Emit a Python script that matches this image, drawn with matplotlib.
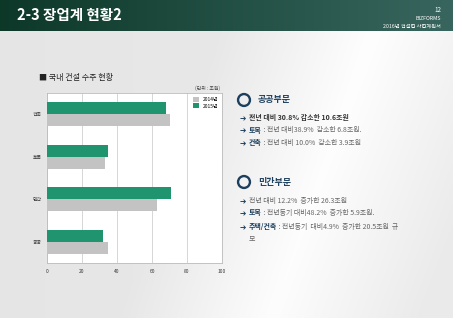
import numpy as np
import matplotlib.pyplot as plt
from matplotlib.patches import Circle

plt.rcParams['font.family'] = ['Noto Sans CJK KR', 'DejaVu Sans']

# --- data ---
categories = ['건축', '토목', '민간', '공공']
val_2015 = [68, 35, 71, 32]
val_2014 = [70, 33, 63, 35]
series_labels = ['2014년', '2015년']
xticks = [0, 20, 40, 60, 80, 100]

green = '#1f946f'
gray = '#c3c3c3'
navy = '#1d3f5e'

fig = plt.figure(figsize=(4.53, 3.18), dpi=100)

# slide background
bg = fig.add_axes([0, 0, 1, 1])
bg.set_axis_off()
yy, xx = np.mgrid[0:1:200j, 0:1:300j]
shade = 0.90 + 0.08 * np.clip(1 - np.abs(xx - 0.6 - 0.25 * (1 - yy)) * 3, 0, 1) + 0.02 * xx
bg.imshow(np.dstack([shade, shade, shade]), extent=[0, 1, 0, 1], aspect='auto', vmin=0, vmax=1)
grad = np.linspace(0, 1, 300)[None, :]
head = np.dstack([0.05 + 0.17 * grad, 0.22 + 0.18 * grad, 0.16 + 0.21 * grad])
bg.imshow(head, extent=[0, 1, 1 - 31 / 318, 1], aspect='auto')
bg.set_xlim(0, 1)
bg.set_ylim(0, 1)

fig.text(17 / 453, 1 - 15 / 318, '2-3 장업계 현황2', color='white', fontsize=10.5,
         fontweight='bold', va='center')
fig.text(441 / 453, 1 - 10 / 318, '12', color='white', fontsize=4.5, ha='right', va='center')
fig.text(441 / 453, 1 - 19 / 318, 'BIZFORMS', color='white', fontsize=3.8, ha='right', va='center')
fig.text(441 / 453, 1 - 26 / 318, '2016년 건설업 사업계획서', color='white', fontsize=3.8,
         ha='right', va='center')

# chart title
fig.text(39 / 453, 1 - 77 / 318, '■ 국내 건설 수주 현황', color='#222222', fontsize=5.8, va='center')
fig.text(220 / 453, 1 - 88 / 318, '(단위 : 조원)', color='#444444', fontsize=3.5,
         ha='right', va='center')

# --- bar chart ---
ax = fig.add_axes([47 / 453, 1 - 263 / 318, 175 / 453, 170 / 318])
ax.set_facecolor('white')
pos = np.arange(len(categories))[::-1]
h = 0.28
ax.barh(pos - h / 2, val_2014, height=h, color=gray, label=series_labels[0], zorder=3)
ax.barh(pos + h / 2, val_2015, height=h, color=green, label=series_labels[1], zorder=3)
ax.set_xlim(0, 100)
ax.set_ylim(-0.5, len(categories) - 0.5)
ax.set_xticks(xticks)
ax.set_yticks(pos)
ax.set_yticklabels(categories)
ax.tick_params(axis='both', labelsize=3.5, length=0, colors='#333333', pad=4)
ax.grid(axis='x', color='#d0d0d0', linewidth=0.6, zorder=0)
for s in ax.spines.values():
    s.set_color('#bbbbbb')
    s.set_linewidth(0.6)
ax.legend(loc='upper right', fontsize=3.5, frameon=False, handlelength=1.2,
          handleheight=1.2, borderaxespad=0.4, labelspacing=0.3)

# --- right-hand text ---
def section(y, title):
    ic = fig.add_axes([235 / 453, 1 - (y + 9) / 318, 18 / 453, 18 / 318])
    ic.set_axis_off()
    ic.set_xlim(-1, 1)
    ic.set_ylim(-1, 1)
    ic.set_aspect('equal')
    ic.add_patch(Circle((0, 0), 0.66, fill=False, lw=1.7, ec=navy))
    fig.text(258 / 453, 1 - y / 318, title, fontsize=6.5, fontweight='bold', color=navy,
             va='center')

section(100, '공공부문')
section(182, '민간부문')

lines = [(118, '', '전년 대비 30.8% 감소한 10.6조원'),
         (130, '토목', ' : 전년 대비38.9%  감소한 6.8조원.'),
         (143, '건축', ' : 전년 대비 10.0%  감소한 3.9조원'),
         (201, '', '전년 대비 12.2%  증가한 26.3조원'),
         (213, '토목', ' : 전년동기 대비48.2%  증가한 5.9조원.'),
         (227, '주택/건축', ' : 전년동기  대비4.9%  증가한 20.5조원  규')]

fig.canvas.draw()
for i, (y, hd, rest) in enumerate(lines):
    fig.text(240 / 453, 1 - y / 318, '➔', fontsize=5.5, color=navy, va='center',
             fontweight='bold', family=['DejaVu Sans'])
    x0 = 249 / 453
    if hd:
        t = fig.text(x0, 1 - y / 318, hd, fontsize=5, color=navy, fontweight='bold', va='center')
        bb = t.get_window_extent(renderer=fig.canvas.get_renderer())
        x0 = bb.x1 / fig.bbox.width
    weight = 'bold' if i == 0 else 'normal'
    color = '#333333' if i == 0 else '#666666'
    fig.text(x0, 1 - y / 318, rest, fontsize=5, color=color, fontweight=weight, va='center')
fig.text(249 / 453, 1 - 238 / 318, '모', fontsize=5, color='#666666', va='center')

fig.savefig('out.png', dpi=100)
